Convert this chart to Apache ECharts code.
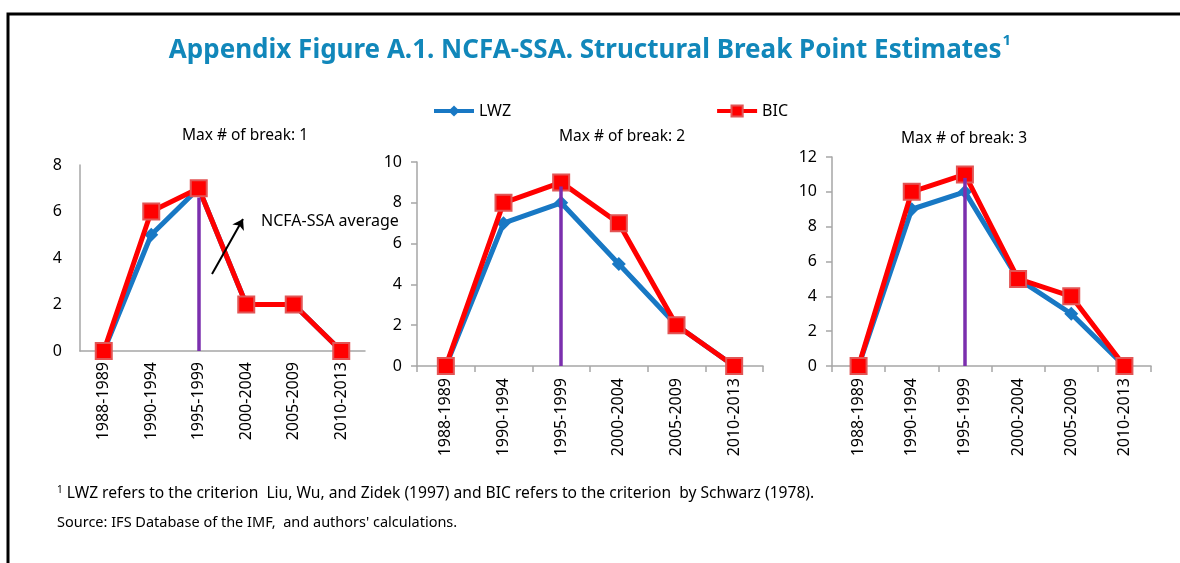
<!DOCTYPE html>
<html>
<head>
<meta charset="utf-8">
<title>NCFA-SSA Structural Break Point Estimates</title>
<script src="https://cdn.jsdelivr.net/npm/echarts@6/dist/echarts.min.js"></script>
<style>
    html, body { margin: 0; padding: 0; background: #fff; }
    #chart { width: 1180px; height: 563px; }
</style>
</head>
<body>
<div id="chart"></div>
<script>
var periods = ['1988-1989', '1990-1994', '1995-1999', '2000-2004', '2005-2009', '2010-2013'];

// Max # of break: 1
var lwz1 = [0, 5, 7, 2, 2, 0];
var bic1 = [0, 6, 7, 2, 2, 0];
// Max # of break: 2
var lwz2 = [0, 7, 8, 5, 2, 0];
var bic2 = [0, 8, 9, 7, 2, 0];
// Max # of break: 3
var lwz3 = [0, 9, 10, 5, 3, 0];
var bic3 = [0, 10, 11, 5, 4, 0];

// purple break lines at 1995-1999 (top value, runs down to 0)
var breakPeriod = '1995-1999';
var breakTop = [6.6, 8.8, 10.8];

var yMax = [8, 10, 12];

var blue = '#1878c4';
var red = '#ff0000';
var purple = '#7b2fae';
var axisGray = '#a6a6a6';
var font = 'Noto Sans';

var grids = [
    {left: 80, top: 165, width: 285, height: 186},
    {left: 417, top: 162, width: 346, height: 204},
    {left: 832, top: 157, width: 319, height: 209}
];

var xAxes = [], yAxes = [], series = [];
var lwzAll = [lwz1, lwz2, lwz3];
var bicAll = [bic1, bic2, bic3];

for (var i = 0; i < 3; i++) {
    xAxes.push({
        type: 'category',
        gridIndex: i,
        data: periods,
        boundaryGap: true,
        axisLine: {lineStyle: {color: axisGray, width: 1.5}},
        axisTick: {show: i > 0, length: 6, lineStyle: {color: axisGray, width: 1.5}},
        axisLabel: {
            rotate: 90,
            margin: i > 0 ? 12 : 11,
            color: '#000',
            fontFamily: font,
            fontSize: 16,
            interval: 0
        }
    });
    yAxes.push({
        type: 'value',
        gridIndex: i,
        min: 0,
        max: yMax[i],
        interval: 2,
        splitLine: {show: false},
        axisLine: {show: true, lineStyle: {color: axisGray, width: 1.5}},
        axisTick: {show: i > 0, length: 6, lineStyle: {color: axisGray, width: 1.5}},
        axisLabel: {
            margin: i > 0 ? 15 : 18,
            color: '#000',
            fontFamily: font,
            fontSize: 16
        }
    });
    series.push({
        name: 'LWZ',
        type: 'line',
        xAxisIndex: i,
        yAxisIndex: i,
        data: lwzAll[i],
        symbol: 'diamond',
        symbolSize: 14,
        z: 2,
        lineStyle: {color: blue, width: 5},
        itemStyle: {color: blue}
    });
    var mlData = [[
        {coord: [breakPeriod, breakTop[i]]},
        {coord: [breakPeriod, 0]}
    ]];
    if (i === 0) {
        // "NCFA-SSA average" pointer arrow
        mlData.push([
            {x: 212, y: 274, lineStyle: {color: '#000', width: 2}},
            {x: 243, y: 219, symbol: 'arrow', symbolSize: 10}
        ]);
    }
    series.push({
        name: 'BIC',
        type: 'line',
        xAxisIndex: i,
        yAxisIndex: i,
        data: bicAll[i],
        symbol: 'rect',
        symbolSize: 16,
        z: 3,
        lineStyle: {color: red, width: 5},
        itemStyle: {color: red, borderColor: '#e25555', borderWidth: 2},
        markLine: {
            silent: true,
            symbol: ['none', 'none'],
            label: {show: false},
            lineStyle: {color: purple, width: 3.5, type: 'solid'},
            z: 4,
            data: mlData
        }
    });
}

var myChart = echarts.init(document.getElementById('chart'));
myChart.setOption({
    backgroundColor: '#fff',
    animation: false,
    textStyle: {fontFamily: font},
    title: [{
        text: '{t|Appendix Figure A.1. NCFA-SSA. Structural Break Point Estimates}{s|1}',
        left: 'center',
        top: 28,
        textStyle: {
            rich: {
                t: {fontSize: 26, fontWeight: 'bold', color: '#1187ba', fontFamily: font, lineHeight: 36},
                s: {fontSize: 15, fontWeight: 'bold', color: '#1187ba', fontFamily: font, verticalAlign: 'top', lineHeight: 36, padding: [0, 0, 16, 1]}
            }
        }
    }, {
        text: 'Max # of break: 1',
        left: 240, top: 123, textAlign: 'center',
        textStyle: {fontSize: 15.5, fontWeight: 'normal', color: '#000', fontFamily: font}
    }, {
        text: 'Max # of break: 2',
        left: 617, top: 124, textAlign: 'center',
        textStyle: {fontSize: 15.5, fontWeight: 'normal', color: '#000', fontFamily: font}
    }, {
        text: 'Max # of break: 3',
        left: 959, top: 126, textAlign: 'center',
        textStyle: {fontSize: 15.5, fontWeight: 'normal', color: '#000', fontFamily: font}
    }, {
        text: 'NCFA-SSA average',
        left: 256, top: 208,
        textStyle: {fontSize: 16, fontWeight: 'normal', color: '#000', fontFamily: font}
    }, {
        text: '{s|1} LWZ refers to the criterion  Liu, Wu, and Zidek (1997) and BIC refers to the criterion  by Schwarz (1978).',
        left: 52, top: 480,
        textStyle: {
            fontSize: 15.6, fontWeight: 'normal', color: '#000', fontFamily: font,
            rich: {s: {fontSize: 10, color: '#000', fontFamily: font, verticalAlign: 'top', padding: [0, 0, 7, 0]}}
        }
    }, {
        text: 'Source: IFS Database of the IMF,  and authors\' calculations.',
        left: 52, top: 510,
        textStyle: {fontSize: 14.5, fontWeight: 'normal', color: '#000', fontFamily: font}
    }],
    legend: {
        data: ['LWZ', 'BIC'],
        left: 432,
        top: 103,
        padding: 0,
        itemWidth: 40,
        itemHeight: 14,
        itemGap: 204,
        lineStyle: {width: 4},
        textStyle: {fontSize: 16, color: '#000', fontFamily: font}
    },
    grid: grids,
    xAxis: xAxes,
    yAxis: yAxes,
    series: series,
    graphic: [{
        type: 'polyline',
        silent: true,
        shape: {points: [[8, 563], [8, 14], [1180, 14]]},
        style: {stroke: '#000', lineWidth: 3, fill: null}
    }]
});
</script>
</body>
</html>
